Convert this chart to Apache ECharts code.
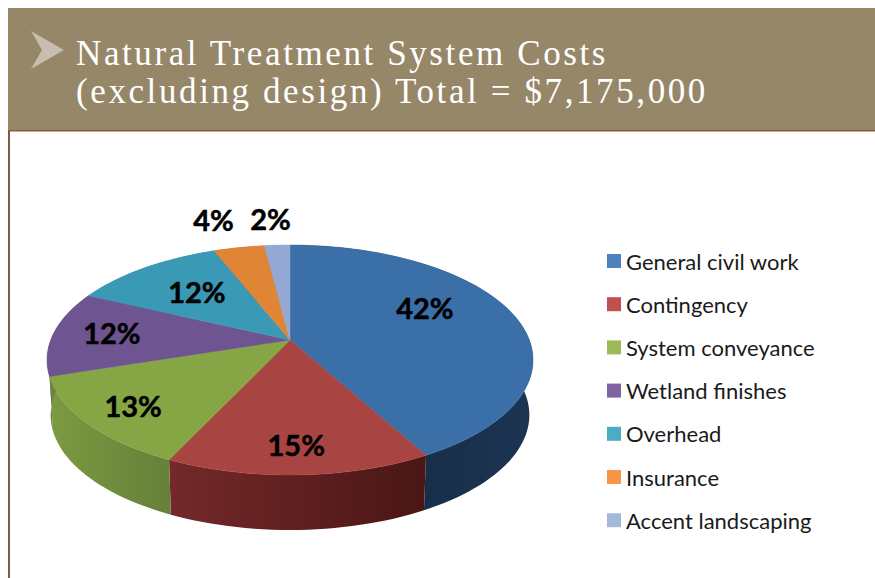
<!DOCTYPE html>
<html>
<head>
<meta charset="utf-8">
<style>
  html, body { margin: 0; padding: 0; background: #fff; }
  #chart { width: 875px; height: 578px; }
  /* the svg renderer leaves text as <text>, so the heading can be spaced out */
  #chart text[style*="Liberation Serif"] { letter-spacing: 2.6px; }
</style>
<script src="https://cdn.jsdelivr.net/npm/echarts@6/dist/echarts.min.js"></script>
</head>
<body>
<div id="chart"></div>
<script>
  const titleLines = ['Natural Treatment System Costs', '(excluding design) Total = $7,175,000']
  const categories = ['General civil work', 'Contingency', 'System conveyance', 'Wetland finishes', 'Overhead', 'Insurance', 'Accent landscaping']
  const shares = [42, 15, 13, 12, 12, 4, 2]

  const topColors = ['#3a6fa8', '#a84543', '#86a645', '#6e5490', '#3a9ab6', '#e08536', '#93a9d4']
  const wallColors = [['#12263e', '#1c3553'], ['#74292a', '#4a1616'], ['#7c9a40', '#66803a'], ['#6f7f45', '#6f7f45'], ['#2c7a90', '#2c7a90'], ['#b06a2a', '#b06a2a'], ['#7588aa', '#7588aa']]
  const legendColors = ['#4f81bd', '#c0504d', '#9bbb59', '#8064a2', '#4bacc6', '#f79646', '#a4b8dc']
  // hand placed labels, as in the original: offset from the slice's mid point
  const labelNudge = [[-5, -16], [1, 27], [-37, 16], [-31, -3], [1, -2], [-43, -60], [-11, -59]]

  // perspective pie: apex, radii, tilt and wall depth
  const apexX = 290
  const apexY = 340
  const radiusX = 239.3
  const radiusY = 111.5
  const tilt = 0.1739
  const depth = 55
  const wallShrink = 0.985

  function project (pct, r) {
    const a = pct * 3.6 * Math.PI / 180
    const sx = Math.sin(a)
    const sy = -Math.cos(a)
    const d = 1 - tilt * r * sy
    return [apexX + radiusX * r * sx / d, apexY + radiusY * r * sy / d]
  }

  function arc (from, to) {
    const pts = []
    const steps = Math.max(2, Math.ceil((to - from) * 2))
    for (let i = 0; i <= steps; i++) {
      pts.push(project(from + (to - from) * i / steps, 1))
    }
    return pts
  }

  function lower (p) {
    return [apexX + (p[0] - apexX) * wallShrink, p[1] + depth]
  }

  let sum = 0
  const ranges = shares.map(v => {
    const r = [sum, sum + v]
    sum += v
    return r
  })

  function renderSlice (i) {
    return function (params, api) {
      const from = api.value(0)
      const to = api.value(1)
      const rim = arc(from, to)
      const mid = project((from + to) / 2, 0.62)
      return {
        type: 'group',
        children: [{
          type: 'polygon',
          z2: 1,
          shape: { points: rim.concat(rim.map(lower).reverse()) },
          style: {
            fill: {
              type: 'linear', x: 0, y: 0, x2: 1, y2: 0,
              colorStops: [{ offset: 0, color: wallColors[i][0] }, { offset: 1, color: wallColors[i][1] }]
            }
          }
        }, {
          type: 'polygon',
          z2: 2,
          shape: { points: [[apexX, apexY]].concat(rim) },
          style: { fill: topColors[i], stroke: topColors[i], lineWidth: 0.5 }
        }, {
          type: 'text',
          z2: 3,
          style: {
            text: shares[i] + '%',
            x: mid[0] + labelNudge[i][0],
            y: mid[1] + labelNudge[i][1],
            align: 'center',
            verticalAlign: 'middle',
            fill: '#000',
            stroke: '#000',
            lineWidth: 0.5,
            font: 'bold 29px Lato'
          }
        }]
      }
    }
  }

  const myChart = echarts.init(document.getElementById('chart'), null, { renderer: 'svg' })
  myChart.setOption({
    animation: false,
    title: {
      text: titleLines.join('\n'),
      left: 71,
      top: 29,
      textStyle: {
        color: '#fff',
        fontFamily: 'Liberation Serif',
        fontWeight: 'normal',
        fontSize: 35,
        lineHeight: 38
      }
    },
    legend: {
      orient: 'vertical',
      left: 602,
      top: 245,
      icon: 'rect',
      itemWidth: 14,
      itemHeight: 14,
      itemGap: 21.2,
      selectedMode: false,
      textStyle: { color: '#1a1a1a', fontFamily: 'Lato', fontSize: 22 },
      data: categories.map((name, i) => ({ name, itemStyle: { color: legendColors[i] } }))
    },
    graphic: [
      { type: 'rect', z: -10, shape: { x: 8, y: 8, width: 867, height: 122 }, style: { fill: '#978769' } },
      { type: 'rect', z: -10, shape: { x: 8, y: 130, width: 867, height: 1.5 }, style: { fill: '#835a3f' } },
      { type: 'rect', z: -10, shape: { x: 8, y: 130, width: 2, height: 448 }, style: { fill: '#835a3f' } },
      { type: 'polygon', z: -9, shape: { points: [[31, 31], [64, 50], [31, 69], [42, 50]] }, style: { fill: '#c8bdae' } }
    ],
    series: categories.map((name, i) => ({
      type: 'custom',
      name,
      coordinateSystem: 'none',
      silent: true,
      renderItem: renderSlice(i),
      data: [ranges[i]]
    }))
  })
</script>
</body>
</html>
